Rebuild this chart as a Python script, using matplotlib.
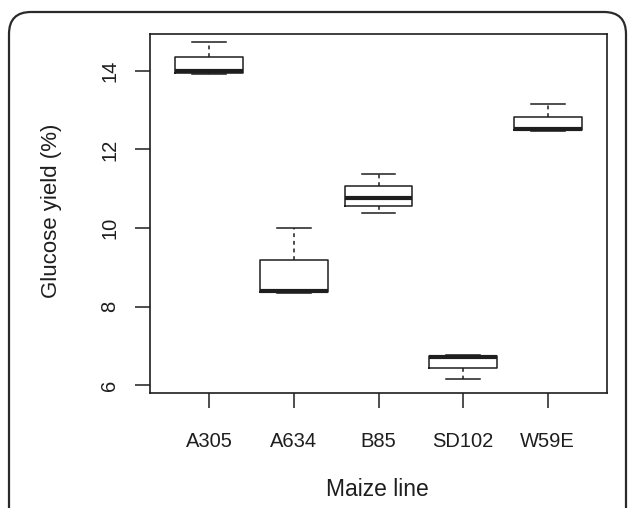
import matplotlib
matplotlib.use('Agg')
import matplotlib.pyplot as plt
from matplotlib.patches import FancyBboxPatch

plt.rcParams['font.family'] = ['Liberation Sans', 'DejaVu Sans']

lines = ['A305', 'A634', 'B85', 'SD102', 'W59E']
whislo = [13.92, 8.34, 10.38, 6.15, 12.47]
q1 = [13.95, 8.38, 10.56, 6.43, 12.50]
med = [14.00, 8.40, 10.76, 6.71, 12.51]
q3 = [14.36, 9.18, 11.07, 6.73, 12.83]
whishi = [14.74, 10.00, 11.38, 6.76, 13.16]
yticks = [6, 8, 10, 12, 14]

W, H = 629, 508
fig = plt.figure(figsize=(W / 100, H / 100), dpi=100)
ax = fig.add_axes([150 / W, 1 - 393 / H, (607 - 150) / W, (393 - 34) / H])

stats = [dict(label=l, whislo=a, q1=b, med=c, q3=d, whishi=e)
         for l, a, b, c, d, e in zip(lines, whislo, q1, med, q3, whishi)]
ink = '#1e1e1e'
ax.bxp(stats, positions=range(1, 6), widths=0.8, showfliers=False,
       boxprops=dict(color=ink, lw=1.1),
       medianprops=dict(color=ink, lw=3, solid_capstyle='butt'),
       whiskerprops=dict(color=ink, lw=1.1, linestyle=(0, (2.5, 2.5))),
       capprops=dict(color=ink, lw=1.1), capwidths=0.4)

ax.set_xlim(0.3, 5.7)
ax.set_ylim(5.80, 14.94)
ax.set_yticks(yticks)
ax.set_yticklabels([str(t) for t in yticks], rotation=90, va='center')
ax.set_xticks(range(1, 6))
ax.set_xticklabels(lines)
ax.tick_params(length=11, width=1.1, color=ink, labelsize=14.5, labelcolor=ink, pad=11)
ax.tick_params(axis='x', pad=17)
for s in ax.spines.values():
    s.set_color(ink)
    s.set_linewidth(1.2)

fig.text(377 / W, 1 - 490 / H, 'Maize line', ha='center', va='center', fontsize=16.5, color=ink)
fig.text(52 / W, 1 - 211 / H, 'Glucose yield (%)', ha='center', va='center',
         rotation=90, fontsize=16, color=ink)

frame = FancyBboxPatch((9 / W, -0.1), (626 - 9) / W, (1 - 12 / H) + 0.1,
                       boxstyle='round,pad=0,rounding_size=0.035',
                       transform=fig.transFigure, fill=False, ec='#2a2a2a', lw=1.6,
                       mutation_aspect=W / H)
fig.patches.append(frame)

fig.savefig('out.png', dpi=100)
